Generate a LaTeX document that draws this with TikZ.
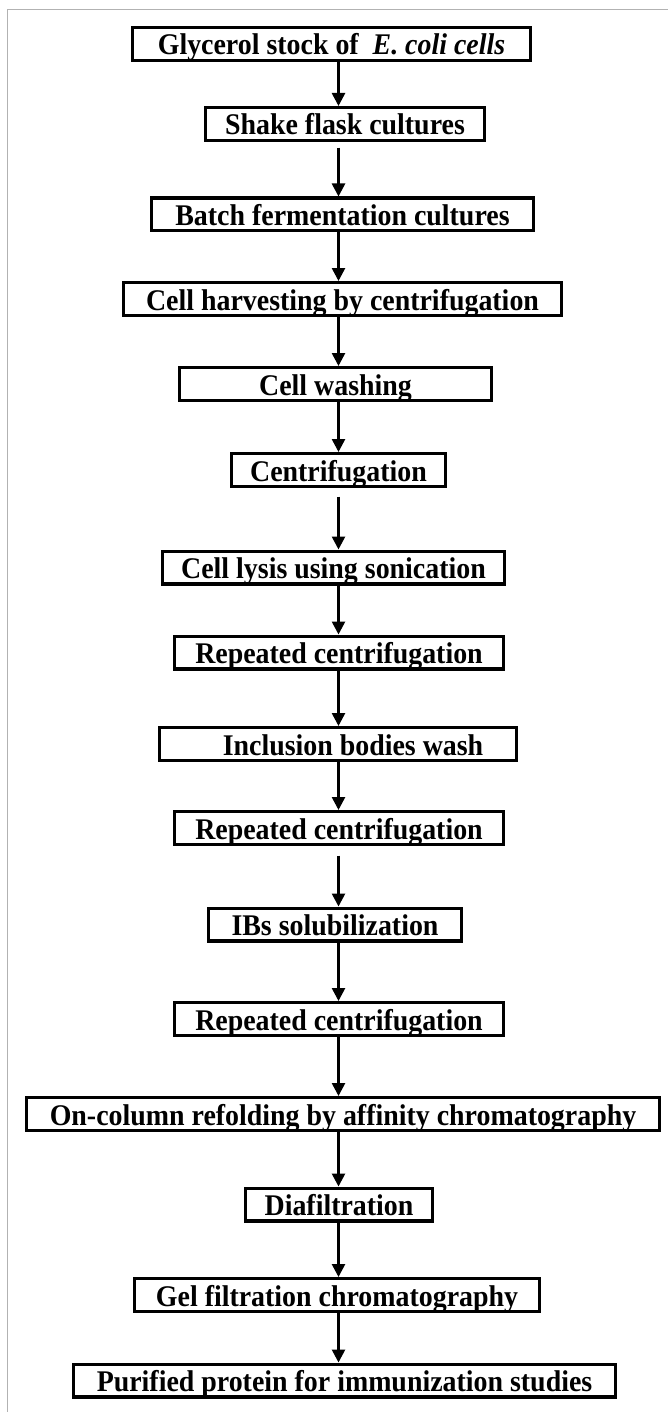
\documentclass[tikz,border=0pt]{standalone}
\usepackage{fontspec}
\setmainfont{Liberation Serif}[FakeStretch=0.93]
\usetikzlibrary{arrows.meta}

\tikzset{
  stepbox/.style={draw, line width=1.6pt, inner sep=0pt, minimum height=16.4pt,
    text height=11pt, text depth=0pt,
    font=\fontsize{15}{17}\selectfont\bfseries},
  flow/.style={line width=1.3pt, -{Triangle[width=6.5pt,length=6.5pt]}}
}

\begin{document}
\begin{tikzpicture}[x=0.5pt, y=-0.5pt]
      \useasboundingbox (0, 0) rectangle (668, 1412);
      \draw[gray!60, line width=0.5pt] (7.5, 1412) -- (7.5, 10) -- (668, 10);

      \node[stepbox, minimum width=198.9pt] (glycerol) at (331.5, 44) {Glycerol stock of \ \textit{E. coli cells}};
      \node[stepbox, minimum width=139.4pt] (shake) at (345, 124) {Shake flask cultures};
      \node[stepbox, minimum width=190.9pt] (batch) at (342.5, 214.5) {Batch fermentation cultures};
      \node[stepbox, minimum width=218.9pt] (harvest) at (342.5, 299) {Cell harvesting by centrifugation};
      \node[stepbox, minimum width=155.9pt] (washing) at (335.5, 384) {Cell washing};
      \node[stepbox, minimum width=106.9pt] (centri) at (338.5, 470) {Centrifugation};
      \node[stepbox, minimum width=170.9pt] (lysis) at (333.5, 567.5) {Cell lysis using sonication};
      \node[stepbox, minimum width=164.4pt] (repA) at (339, 652.5) {Repeated centrifugation};
      \node[stepbox, minimum width=178.4pt] (ibwash) at (338, 744) {\hspace{15pt}Inclusion bodies wash};
      \node[stepbox, minimum width=164.4pt] (repB) at (339, 828) {Repeated centrifugation};
      \node[stepbox, minimum width=126.4pt] (solub) at (335, 924.5) {IBs solubilization};
      \node[stepbox, minimum width=164.4pt] (repC) at (339, 1019) {Repeated centrifugation};
      \node[stepbox, minimum width=316.4pt] (refold) at (343, 1114) {On-column refolding by affinity chromatography};
      \node[stepbox, minimum width=93.4pt] (diafilt) at (339, 1204.5) {Diafiltration};
      \node[stepbox, minimum width=202.4pt] (gelfilt) at (337, 1295) {Gel filtration chromatography};
      \node[stepbox, minimum width=270.9pt] (purified) at (344.5, 1380.5) {Purified protein for immunization studies};

      \coordinate (axis) at (338.5, 0);
      \foreach \a/\b/\g in {glycerol/shake/0, shake/batch/2.8, batch/harvest/0,
          harvest/washing/0, washing/centri/0, centri/lysis/4.3, lysis/repA/0,
          repA/ibwash/0, ibwash/repB/0, repB/solub/4.8, solub/repC/0,
          repC/refold/0, refold/diafilt/0, diafilt/gelfilt/0, gelfilt/purified/0}
        \draw[flow, shorten <=\g pt] (\a.south -| axis) -- (\b.north -| axis);
\end{tikzpicture}
\end{document}
